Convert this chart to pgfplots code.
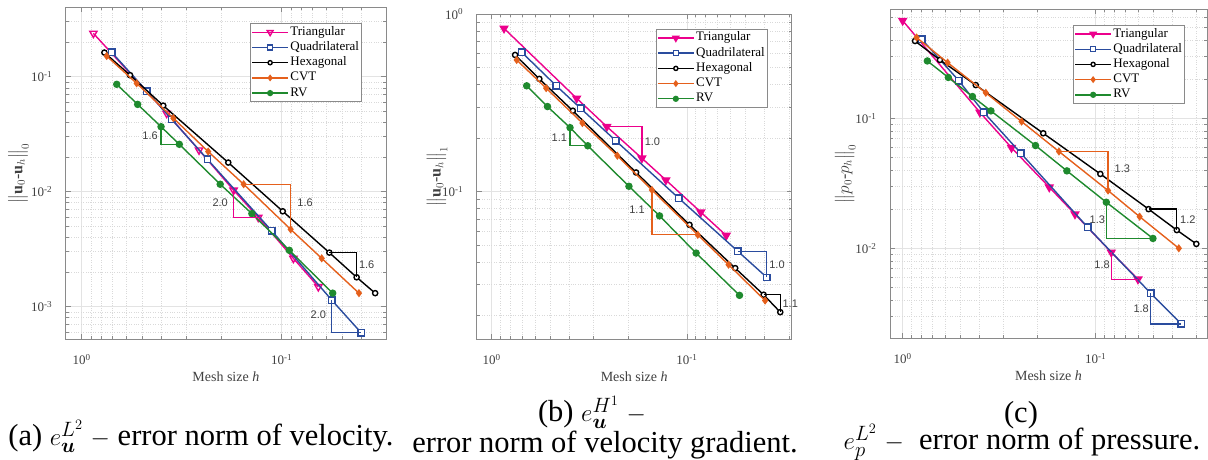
\documentclass[border=0pt]{standalone}
\usepackage{amsmath,amssymb}
\usepackage{fontspec}
\setmainfont{Liberation Serif}
\newfontfamily\arial{Liberation Sans}
\usepackage{xcolor}
\usepackage{pgfplots}
\pgfplotsset{compat=1.18}
\definecolor{labgray}{HTML}{404040}
\definecolor{framegray}{HTML}{8A8A8A}
\definecolor{qblue}{HTML}{2A4C9E}
\definecolor{cvtorange}{HTML}{E5601C}
\definecolor{rvgreen}{HTML}{1F8A2E}

\tikzset{slab/.style={font=\arial\fontsize{11}{13}\selectfont, text=labgray, inner sep=0pt}}
\newcommand{\ylab}[1]{\fontsize{16}{18}\selectfont #1}

\begin{document}
\begin{tikzpicture}
\path[use as bounding box] (0,0) rectangle (1208pt,460pt);

% ---------------- (a) velocity L2
\begin{axis}[at={(65.7pt,120.7pt)}, anchor=south west,
  xmode=log, ymode=log, x dir=reverse, scale only axis,
  width=320.3pt, height=332pt,
  xmin=0.0301, xmax=1.202, ymin=5.2e-4, ymax=0.401,
  clip mode=individual, grid=both,
  major grid style={draw=gray!22, line width=0.6pt},
  minor grid style={draw=gray!30, dotted, line width=0.6pt},
  axis line style={draw=framegray, line width=0.8pt},
  tick style={draw=framegray, line width=0.6pt},
  tick align=inside, major tick length=5pt, minor tick length=3pt,
  xtick={1,0.1}, xticklabels={10\textsuperscript{0},10\textsuperscript{-1}},
  minor xtick={0.03,0.04,0.05,0.06,0.07,0.08,0.09,0.2,0.3,0.4,0.5,0.6,0.7,0.8,0.9},
  ytick={1e-3,1e-2,1e-1}, yticklabels={10\textsuperscript{-3},10\textsuperscript{-2},10\textsuperscript{-1}},
  minor ytick={6e-4,7e-4,8e-4,9e-4,2e-3,3e-3,4e-3,5e-3,6e-3,7e-3,8e-3,9e-3,0.02,0.03,0.04,0.05,0.06,0.07,0.08,0.09,0.2,0.3,0.4},
  tick label style={font=\fontsize{13}{15}\selectfont, text=labgray},
  xticklabel style={anchor=center, yshift=-20pt},
  yticklabel style={anchor=east, xshift=-10pt},
  label style={font=\fontsize{14}{16}\selectfont, text=labgray},
  xlabel={Mesh size \textit{h}},
  xlabel style={at={(axis description cs:0.5,0)}, anchor=center, yshift=-37pt},
  ylabel={\ylab{$\big\|\mathbf{u}_0\text{-}\mathbf{u}_h\big\|_0$}},
  ylabel style={at={(axis description cs:-0.148,0.5)}, anchor=center},
  legend style={font=\fontsize{13}{15}\selectfont, draw=framegray, line width=0.8pt,
    at={(rel axis cs:1,1)}, anchor=north east, xshift=-24pt, yshift=-16pt,
    inner sep=1pt, row sep=0pt, nodes={text height=9pt, text depth=3pt, inner sep=1.6pt}},
  legend cell align=left,
  legend image code/.code={\draw[mark repeat=2,mark phase=2,every mark/.append style={scale=0.8}] plot coordinates {(0pt,0pt) (18pt,0pt) (36pt,0pt)};},
]
\addplot[color=magenta, line width=1.4pt, mark=triangle, mark size=4.2pt, mark options={solid, rotate=180, fill=white}] coordinates {(0.874,0.238) (0.376,0.048) (0.259,0.023) (0.174,0.0103) (0.131,0.00598) (0.0874,0.00263) (0.0656,0.00149)};
\addplot[color=qblue, line width=1.4pt, mark=square*, mark size=3.2pt, mark options={solid, fill=white}] coordinates {(0.708,0.163) (0.473,0.075) (0.355,0.0426) (0.235,0.0191) (0.112,0.00455) (0.0562,0.00114) (0.0401,5.94e-4)};
\addplot[color=black, line width=1.4pt, mark=*, mark size=2.6pt, mark options={solid, fill=white}] coordinates {(0.770,0.162) (0.573,0.103) (0.391,0.056) (0.185,0.0179) (0.0988,0.00675) (0.0578,0.00295) (0.0422,0.0018) (0.0341,0.00131)};
\addplot[color=cvtorange, line width=1.4pt, mark=diamond*, mark size=3pt, mark options={solid, fill=cvtorange}] coordinates {(0.750,0.151) (0.531,0.0875) (0.348,0.0435) (0.233,0.0223) (0.155,0.0116) (0.0902,0.0047) (0.0631,0.00263) (0.0411,0.00131)};
\addplot[color=rvgreen, line width=1.4pt, mark=*, mark size=3pt, mark options={solid, fill=rvgreen}] coordinates {(0.668,0.0858) (0.525,0.0574) (0.401,0.0367) (0.325,0.0258) (0.203,0.0116) (0.141,0.00644) (0.0916,0.00309) (0.0556,0.00131)};
\legend{Triangular,Quadrilateral,Hexagonal,CVT,RV}
\addplot[rvgreen, line width=1.3pt, no marks, forget plot] coordinates {(0.401,0.0367) (0.401,0.0258) (0.325,0.0258)};
\addplot[magenta, line width=1.3pt, no marks, forget plot] coordinates {(0.174,0.0103) (0.174,0.00598) (0.128,0.00598)};
\addplot[cvtorange, line width=1.3pt, no marks, forget plot] coordinates {(0.155,0.0116) (0.0902,0.0116) (0.0902,0.0047)};
\addplot[black, line width=1.3pt, no marks, forget plot] coordinates {(0.0578,0.00295) (0.0422,0.00295) (0.0422,0.0018)};
\addplot[qblue, line width=1.3pt, no marks, forget plot] coordinates {(0.0562,0.00114) (0.0562,5.94e-4) (0.0401,5.94e-4)};
\node[slab] at (axis cs:0.455,0.0305) {1.6};
\node[slab] at (axis cs:0.203,0.00807) {2.0};
\node[slab] at (axis cs:0.0764,0.00807) {1.6};
\node[slab] at (axis cs:0.0376,0.0023) {1.6};
\node[slab] at (axis cs:0.0656,8.47e-4) {2.0};
\end{axis}

% ---------------- (b) velocity H1
\begin{axis}[at={(476.7pt,120.7pt)}, anchor=south west,
  xmode=log, ymode=log, x dir=reverse, scale only axis,
  width=315pt, height=325.3pt,
  xmin=0.029, xmax=1.194, ymin=0.0147, ymax=1,
  clip mode=individual, grid=both,
  major grid style={draw=gray!22, line width=0.6pt},
  minor grid style={draw=gray!30, dotted, line width=0.6pt},
  axis line style={draw=framegray, line width=0.8pt},
  tick style={draw=framegray, line width=0.6pt},
  tick align=inside, major tick length=5pt, minor tick length=3pt,
  xtick={1,0.1}, xticklabels={10\textsuperscript{0},10\textsuperscript{-1}},
  minor xtick={0.03,0.04,0.05,0.06,0.07,0.08,0.09,0.2,0.3,0.4,0.5,0.6,0.7,0.8,0.9},
  ytick={0.1,1}, yticklabels={10\textsuperscript{-1},10\textsuperscript{0}},
  minor ytick={0.02,0.03,0.04,0.05,0.06,0.07,0.08,0.09,0.2,0.3,0.4,0.5,0.6,0.7,0.8,0.9},
  tick label style={font=\fontsize{13}{15}\selectfont, text=labgray},
  xticklabel style={anchor=center, yshift=-20pt},
  yticklabel style={anchor=east, xshift=-10pt},
  label style={font=\fontsize{14}{16}\selectfont, text=labgray},
  xlabel={Mesh size \textit{h}},
  xlabel style={at={(axis description cs:0.5,0)}, anchor=center, yshift=-37pt},
  ylabel={\ylab{$\big\|\mathbf{u}_0\text{-}\mathbf{u}_h\big\|_1$}},
  ylabel style={at={(axis description cs:-0.127,0.5)}, anchor=center},
  legend style={font=\fontsize{13}{15}\selectfont, draw=framegray, line width=0.8pt,
    at={(rel axis cs:1,1)}, anchor=north east, xshift=-24pt, yshift=-15pt,
    inner sep=1pt, row sep=0pt, nodes={text height=9pt, text depth=3pt, inner sep=1.6pt}},
  legend cell align=left,
  legend image code/.code={\draw[mark repeat=2,mark phase=2,every mark/.append style={scale=0.8}] plot coordinates {(0pt,0pt) (18pt,0pt) (36pt,0pt)};},
]
\addplot[color=magenta, line width=1.4pt, mark=triangle*, mark size=4.2pt, mark options={solid, rotate=180, fill=magenta}] coordinates {(0.865,0.830) (0.367,0.335) (0.257,0.232) (0.170,0.154) (0.128,0.116) (0.0848,0.0765) (0.0628,0.0565)};
\addplot[color=qblue, line width=1.4pt, mark=square*, mark size=3.2pt, mark options={solid, fill=white}] coordinates {(0.702,0.609) (0.468,0.395) (0.350,0.294) (0.231,0.193) (0.110,0.0917) (0.0547,0.0460) (0.0389,0.0328)};
\addplot[color=black, line width=1.4pt, mark=*, mark size=2.6pt, mark options={solid, fill=white}] coordinates {(0.759,0.588) (0.570,0.431) (0.384,0.285) (0.182,0.128) (0.0969,0.0649) (0.0565,0.0370) (0.0404,0.0262) (0.0332,0.0209)};
\addplot[color=cvtorange, line width=1.4pt, mark=diamond*, mark size=3pt, mark options={solid, fill=cvtorange}] coordinates {(0.745,0.551) (0.526,0.382) (0.343,0.243) (0.227,0.159) (0.151,0.102) (0.0879,0.0570) (0.0611,0.0387) (0.0397,0.0243)};
\addplot[color=rvgreen, line width=1.4pt, mark=*, mark size=3pt, mark options={solid, fill=rvgreen}] coordinates {(0.662,0.394) (0.518,0.301) (0.397,0.229) (0.322,0.181) (0.198,0.107) (0.138,0.0729) (0.0896,0.0450) (0.0537,0.0260)};
\legend{Triangular,Quadrilateral,Hexagonal,CVT,RV}
\addplot[rvgreen, line width=1.3pt, no marks, forget plot] coordinates {(0.397,0.229) (0.397,0.181) (0.322,0.181)};
\addplot[magenta, line width=1.3pt, no marks, forget plot] coordinates {(0.257,0.232) (0.170,0.232) (0.170,0.154)};
\addplot[cvtorange, line width=1.3pt, no marks, forget plot] coordinates {(0.151,0.102) (0.151,0.0570) (0.0879,0.0570)};
\addplot[qblue, line width=1.3pt, no marks, forget plot] coordinates {(0.0547,0.0460) (0.0389,0.0460) (0.0389,0.0328)};
\addplot[black, line width=1.3pt, no marks, forget plot] coordinates {(0.0404,0.0262) (0.0332,0.0262) (0.0332,0.0209)};
\node[slab] at (axis cs:0.450,0.201) {1.1};
\node[slab] at (axis cs:0.150,0.191) {1.0};
\node[slab] at (axis cs:0.180,0.0788) {1.1};
\node[slab] at (axis cs:0.0345,0.0387) {1.0};
\node[slab] at (axis cs:0.0295,0.0233) {1.1};
\end{axis}

% ---------------- (c) pressure L2
\begin{axis}[at={(890pt,121.7pt)}, anchor=south west,
  xmode=log, ymode=log, x dir=reverse, scale only axis,
  width=317pt, height=329pt,
  xmin=0.0265, xmax=1.163, ymin=0.00203, ymax=0.689,
  clip mode=individual, grid=both,
  major grid style={draw=gray!22, line width=0.6pt},
  minor grid style={draw=gray!30, dotted, line width=0.6pt},
  axis line style={draw=framegray, line width=0.8pt},
  tick style={draw=framegray, line width=0.6pt},
  tick align=inside, major tick length=5pt, minor tick length=3pt,
  xtick={1,0.1}, xticklabels={10\textsuperscript{0},10\textsuperscript{-1}},
  minor xtick={0.03,0.04,0.05,0.06,0.07,0.08,0.09,0.2,0.3,0.4,0.5,0.6,0.7,0.8,0.9},
  ytick={0.01,0.1}, yticklabels={10\textsuperscript{-2},10\textsuperscript{-1}},
  minor ytick={3e-3,4e-3,5e-3,6e-3,7e-3,8e-3,9e-3,0.02,0.03,0.04,0.05,0.06,0.07,0.08,0.09,0.2,0.3,0.4,0.5,0.6},
  tick label style={font=\fontsize{13}{15}\selectfont, text=labgray},
  xticklabel style={anchor=center, yshift=-20pt},
  yticklabel style={anchor=east, xshift=-10pt},
  label style={font=\fontsize{14}{16}\selectfont, text=labgray},
  xlabel={Mesh size \textit{h}},
  xlabel style={at={(axis description cs:0.5,0)}, anchor=center, yshift=-37pt},
  ylabel={\ylab{$\big\|p_0\text{-}p_h\big\|_0$}},
  ylabel style={at={(axis description cs:-0.142,0.5)}, anchor=center},
  legend style={font=\fontsize{13}{15}\selectfont, draw=framegray, line width=0.8pt,
    at={(rel axis cs:1,1)}, anchor=north east, xshift=-22pt, yshift=-15.7pt,
    inner sep=1pt, row sep=0pt, nodes={text height=9pt, text depth=3pt, inner sep=1.6pt}},
  legend cell align=left,
  legend image code/.code={\draw[mark repeat=2,mark phase=2,every mark/.append style={scale=0.8}] plot coordinates {(0pt,0pt) (18pt,0pt) (36pt,0pt)};},
]
\addplot[color=magenta, line width=1.4pt, mark=triangle*, mark size=4.2pt, mark options={solid, rotate=180, fill=magenta}] coordinates {(1.0,0.564) (0.398,0.111) (0.273,0.0594) (0.174,0.0295) (0.128,0.0183) (0.0830,0.00931) (0.0604,0.00578)};
\addplot[color=qblue, line width=1.4pt, mark=square*, mark size=3.2pt, mark options={solid, fill=white}] coordinates {(0.797,0.406) (0.511,0.194) (0.380,0.111) (0.244,0.0538) (0.110,0.0145) (0.0519,0.00451) (0.0360,0.00262)};
\addplot[color=black, line width=1.4pt, mark=*, mark size=2.6pt, mark options={solid, fill=white}] coordinates {(0.863,0.393) (0.641,0.281) (0.418,0.180) (0.187,0.0767) (0.0946,0.0373) (0.0532,0.0200) (0.0380,0.0138) (0.0301,0.0108)};
\addplot[color=cvtorange, line width=1.4pt, mark=diamond*, mark size=3pt, mark options={solid, fill=cvtorange}] coordinates {(0.847,0.418) (0.585,0.268) (0.371,0.157) (0.242,0.0943) (0.155,0.0555) (0.0863,0.0278) (0.0592,0.0175) (0.0371,0.0100)};
\addplot[color=rvgreen, line width=1.4pt, mark=*, mark size=3pt, mark options={solid, fill=rvgreen}] coordinates {(0.745,0.276) (0.580,0.206) (0.435,0.147) (0.349,0.114) (0.205,0.0617) (0.141,0.0394) (0.0881,0.0226) (0.0505,0.0119)};
\legend{Triangular,Quadrilateral,Hexagonal,CVT,RV}
\addplot[cvtorange, line width=1.3pt, no marks, forget plot] coordinates {(0.155,0.0555) (0.0863,0.0555) (0.0863,0.0278)};
\addplot[black, line width=1.3pt, no marks, forget plot] coordinates {(0.0532,0.0200) (0.0380,0.0200) (0.0380,0.0138)};
\addplot[rvgreen, line width=1.3pt, no marks, forget plot] coordinates {(0.0881,0.0226) (0.0881,0.0119) (0.0505,0.0119)};
\addplot[magenta, line width=1.3pt, no marks, forget plot] coordinates {(0.0830,0.00931) (0.0830,0.00578) (0.0604,0.00578)};
\addplot[qblue, line width=1.3pt, no marks, forget plot] coordinates {(0.0519,0.00451) (0.0519,0.00262) (0.0360,0.00262)};
\node[slab] at (axis cs:0.0728,0.0406) {1.3};
\node[slab] at (axis cs:0.0333,0.0165) {1.2};
\node[slab] at (axis cs:0.098,0.0167) {1.3};
\node[slab] at (axis cs:0.0927,0.00745) {1.8};
\node[slab] at (axis cs:0.0581,0.00345) {1.8};
\end{axis}

% ---------------- captions
\begin{scope}[every node/.style={font=\fontsize{30.5}{33}\selectfont, inner sep=0pt}]
\node[anchor=base] at (201pt,14pt) {(a) $e_{\boldsymbol{u}}^{L^2}$ $-$ error norm of velocity.};
\node[anchor=base] at (592pt,38pt) {(b) $e_{\boldsymbol{u}}^{H^1}$ $-$};
\node[anchor=base] at (605pt,7pt) {error norm of velocity gradient.};
\node[anchor=base] at (1021pt,37pt) {(c)};
\node[anchor=base] at (1022pt,10pt) {$e_{p}^{L^2}$ $-$ \ error norm of pressure.};
\end{scope}
\end{tikzpicture}
\end{document}
